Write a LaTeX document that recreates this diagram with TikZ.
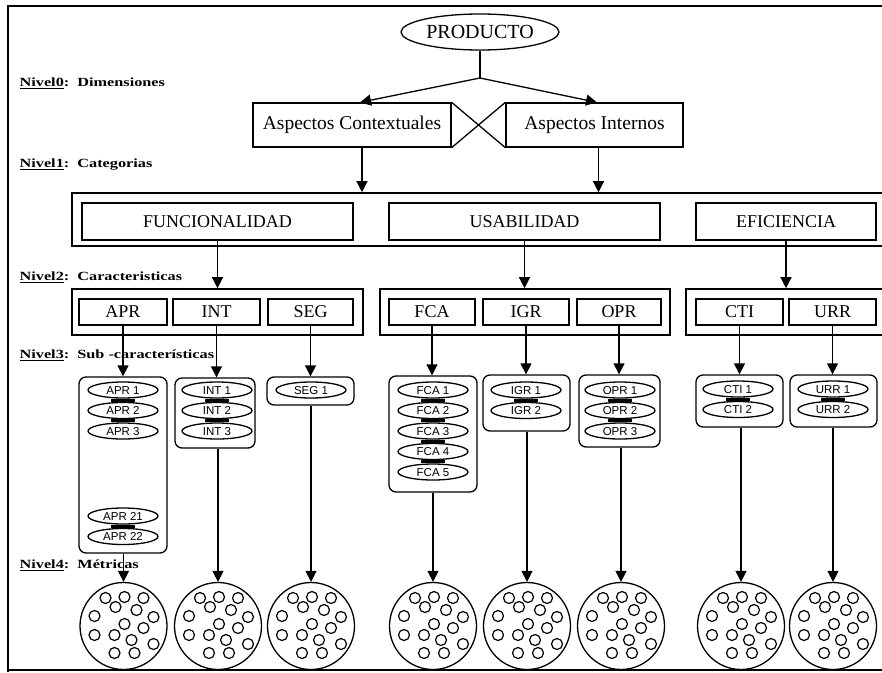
\documentclass[tikz,border=0pt]{standalone}
\usepackage{fontspec}
\setmainfont{Liberation Serif}
\newfontfamily\elfont{Liberation Sans}
\newfontfamily\lvlfont[FakeStretch=1.3]{Liberation Serif Bold}
\usetikzlibrary{arrows.meta}
\usetikzlibrary{positioning}
\usetikzlibrary{shapes.geometric}

\begin{document}
\begin{tikzpicture}[
			x=1pt, y=-1pt, line width=1.3pt,
			arr/.style={arrows=-{Triangle[length=11pt,width=11pt]}},
			producto/.style={ellipse, draw=black, minimum width=158pt, minimum height=36pt, inner sep=0pt, font=\fontsize{20}{22}\selectfont},
			dimen/.style={rectangle, draw=black, minimum height=44pt, inner sep=0pt, font=\fontsize{19.5}{22}\selectfont},
			grupo/.style={rectangle, draw=black, line width=1.6pt},
			cat/.style={rectangle, draw=black, minimum height=37pt, inner sep=0pt, font=\fontsize{18}{20}\selectfont},
			car/.style={rectangle, draw=black, minimum height=26pt, inner sep=0pt, font=\fontsize{18}{20}\selectfont},
			subgrupo/.style={rectangle, rounded corners=7pt, draw=black},
			subc/.style={ellipse, draw=black, minimum width=70pt, minimum height=16pt, inner sep=0pt, text height=8pt, text depth=0pt, font=\elfont\fontsize{11.5}{12}\selectfont},
			metrica/.style={circle, draw=black, minimum size=87pt, inner sep=0pt},
			nivel/.style={anchor=west, inner sep=0pt, font=\lvlfont\fontsize{12.5}{14}\selectfont},
			]
			\useasboundingbox (0,0) rectangle (882,672);
			\draw (8,672) -- (8,6) -- (882,6);
			\draw (8,670) -- (882,670);
			
			% niveles
			\node[nivel] (n0) at (19,83)  {\underline{Nivel0}:\ \ Dimensiones};
			\node[nivel] (n1) at (19,165) {\underline{Nivel1}:\ \ Categorias};
			\node[nivel] (n2) at (19,277) {\underline{Nivel2}:\ \ Caracteristicas};
			\node[nivel] (n3) at (19,355) {\underline{Nivel3}:\ \ Sub -características};
			\node[nivel] (n4) at (19,565) {\underline{Nivel4}:\ \ Métricas};
			
			% nivel 0
			\node[producto] (prod) at (480,32) {PRODUCTO};
			\node[dimen, minimum width=198pt] (ctx)  at (352,125)   {Aspectos Contextuales};
			\node[dimen, minimum width=177pt] (intr) at (594.5,125) {Aspectos Internos};
			\coordinate (rama) at (480,78);
			\draw (prod) -- (rama);
			\draw [arr] (rama) -- ([xshift=8pt]ctx.north);
			\draw [arr] (rama) -- ([xshift=2.5pt]intr.north);
			\draw (ctx.north east) -- (intr.south west);
			\draw (ctx.south east) -- (intr.north west);
			
			% nivel 1
			\node[grupo, minimum width=820pt, minimum height=53pt] (cats) at (482,219.5) {};
			\node[cat, minimum width=271pt] (func) at (217.5,221.5) {FUNCIONALIDAD};
			\node[cat, minimum width=271pt] (usab) at (524.5,221.5) {USABILIDAD};
			\node[cat, minimum width=180pt] (efic) at (786,221.5)   {EFICIENCIA};
			\draw [arr] ([xshift=10pt]ctx.south) -- ([xshift=10pt]ctx.south |- cats.north);
			\draw [arr] ([xshift=4pt]intr.south) -- ([xshift=4pt]intr.south |- cats.north);
			
			% nivel 2
			\node[grupo, minimum width=291pt, minimum height=46pt] (fgr) at (217.5,312) {};
			\node[grupo, minimum width=290pt, minimum height=46pt] (ugr) at (525,312)   {};
			\node[grupo, minimum width=206pt, minimum height=46pt] (egr) at (789,312)   {};
			\draw [arr] (func) -- (func.south |- fgr.north);
			\draw [arr] (usab) -- (usab.south |- ugr.north);
			\draw [arr] (efic) -- (efic.south |- egr.north);
			\node[car, minimum width=88pt] (apr)  at (123,312)   {APR};
			\node[car, minimum width=87pt] (inte) at (216.5,312) {INT};
			\node[car, minimum width=85pt] (seg)  at (310.5,312) {SEG};
			\node[car, minimum width=86pt] (fca)  at (432,312)   {FCA};
			\node[car, minimum width=86pt] (igr)  at (526,312)   {IGR};
			\node[car, minimum width=84pt] (opr)  at (619,312)   {OPR};
			\node[car, minimum width=87pt] (cti)  at (739.5,312) {CTI};
			\node[car, minimum width=87pt] (urr)  at (832.5,312) {URR};
			
			% nivel 3
			\node[subgrupo, minimum width=88pt, minimum height=176pt] (aprs)  at (123,465)   {};
			\node[subgrupo, minimum width=80pt, minimum height=70pt]  (intes) at (215,413)   {};
			\node[subgrupo, minimum width=87pt, minimum height=28pt]  (segs)  at (310.5,391) {};
			\node[subgrupo, minimum width=88pt, minimum height=116pt] (fcas)  at (433,434)   {};
			\node[subgrupo, minimum width=87pt, minimum height=56pt]  (igrs)  at (526.5,403) {};
			\node[subgrupo, minimum width=81pt, minimum height=72pt]  (oprs)  at (619.5,411) {};
			\node[subgrupo, minimum width=87pt, minimum height=52pt]  (ctis)  at (739.5,401) {};
			\node[subgrupo, minimum width=87pt, minimum height=52pt]  (urrs)  at (833.5,401) {};
			\foreach \c in {apr,inte,seg,fca,igr,opr,cti,urr}
				\draw [arr] (\c.south) -- (\c.south |- \c s.north);
			
			\node[subc] (apr1)  at (123,390)   {APR 1};
			\node[subc] (apr2)  at (123,410.5) {APR 2};
			\node[subc] (apr3)  at (123,431)   {APR 3};
			\node[subc] (apr21) at (123,516)   {APR 21};
			\node[subc] (apr22) at (123,536.5) {APR 22};
			\node[subc] (int1)  at (217,390)   {INT 1};
			\node[subc] (int2)  at (217,410.5) {INT 2};
			\node[subc] (int3)  at (217,431)   {INT 3};
			\node[subc] (seg1)  at (311,390)   {SEG 1};
			\node[subc] (fca1)  at (433,390)   {FCA 1};
			\node[subc] (fca2)  at (433,410.5) {FCA 2};
			\node[subc] (fca3)  at (433,431)   {FCA 3};
			\node[subc] (fca4)  at (433,451.5) {FCA 4};
			\node[subc] (fca5)  at (433,472)   {FCA 5};
			\node[subc] (igr1)  at (526,390)   {IGR 1};
			\node[subc] (igr2)  at (526,410.5) {IGR 2};
			\node[subc] (opr1)  at (620,390)   {OPR 1};
			\node[subc] (opr2)  at (620,410.5) {OPR 2};
			\node[subc] (opr3)  at (620,431)   {OPR 3};
			\node[subc] (cti1)  at (738,389)   {CTI 1};
			\node[subc] (cti2)  at (738,409.5) {CTI 2};
			\node[subc] (urr1)  at (833,389)   {URR 1};
			\node[subc] (urr2)  at (833,409.5) {URR 2};
			% uniones
			\foreach \a/\b in {apr1/apr2,apr2/apr3,apr21/apr22,int1/int2,int2/int3,fca1/fca2,fca2/fca3,fca3/fca4,fca4/fca5,igr1/igr2,opr1/opr2,opr2/opr3,cti1/cti2,urr1/urr2}
				\fill ([xshift=-12pt]\a.south) rectangle ([xshift=12pt]\b.north);
			
			% nivel 4
			\node[metrica] (aprm)  at (123.5,626) {};
			\node[metrica] (intem) at (218,626)   {};
			\node[metrica] (segm)  at (311,626)   {};
			\node[metrica] (fcam)  at (433,626)   {};
			\node[metrica] (igrm)  at (527,626)   {};
			\node[metrica] (oprm)  at (621,626)   {};
			\node[metrica] (ctim)  at (741,626)   {};
			\node[metrica] (urrm)  at (833,626)   {};
			\foreach \c in {apr,inte,seg,fca,igr,opr,cti,urr}
				\draw [arr] (\c s.south -| \c m.north) -- (\c m.north);
			\foreach \m in {aprm,intem,segm,fcam,igrm,oprm,ctim,urrm}
				\foreach \dx/\dy in {-18/-28,1/-29,20/-28,-8/-19,13/-16,-29/-10,30/-9,1/-2,20/2,-29/9,-9/9,8/14,30/18,-9/27,11/27}
					\draw [line width=1.2pt] ([shift={(\dx,\dy)}]\m.center) circle[radius=5.5];
			
			\end{tikzpicture}
\end{document}
